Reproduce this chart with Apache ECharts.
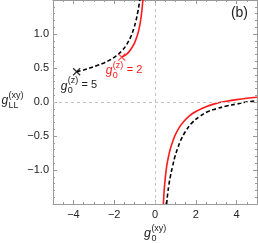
<!DOCTYPE html>
<html><head><meta charset="utf-8">
<script src="https://cdn.jsdelivr.net/npm/echarts@6/dist/echarts.min.js"></script>
<style>html,body{margin:0;padding:0;background:#fff}#c{width:258px;height:243px}</style>
</head><body><div id="c"></div>
<script>
// ---- data ----
const xTickValues = [-4, -2, 0, 2, 4];
const xMin = -5, xMax = 5, yMin = -1.5, yMax = 1.5;

const redLeft = [[-1.63,0.66],[-1.45,0.69],[-1.30,0.73],[-1.15,0.79],[-1.00,0.87],[-0.90,0.95],[-0.80,1.05],[-0.72,1.17],[-0.66,1.30],[-0.62,1.41],[-0.59,1.52]];
const redRight = [[0.41,-1.50],[0.45,-1.30],[0.50,-1.13],[0.57,-0.95],[0.65,-0.82],[0.75,-0.69],[0.87,-0.58],[1.00,-0.48],[1.20,-0.37],[1.40,-0.29],[1.70,-0.20],[2.00,-0.14],[2.50,-0.07],[3.00,-0.02],[3.50,0.01],[4.00,0.035],[4.50,0.055],[5.00,0.07]];
const blackLeft = [[-3.84,0.446],[-3.50,0.47],[-3.20,0.50],[-2.85,0.535],[-2.50,0.575],[-2.20,0.62],[-1.90,0.68],[-1.60,0.76],[-1.40,0.84],[-1.20,0.95],[-1.05,1.07],[-0.93,1.20],[-0.84,1.33],[-0.77,1.45],[-0.74,1.52]];
const blackRight = [[0.57,-1.50],[0.62,-1.35],[0.68,-1.22],[0.75,-1.10],[0.85,-0.96],[0.98,-0.80],[1.10,-0.69],[1.25,-0.57],[1.50,-0.43],[1.80,-0.31],[2.20,-0.21],[2.60,-0.14],[3.00,-0.10],[3.50,-0.06],[4.00,-0.03],[4.50,0.00],[5.00,0.02]];
const markerRed = [[-1.63,0.66]];
const markerBlack = [[-3.84,0.446]];
const labelRed = { sup: '(z)', sub: '0', rest: '= 2' };
const labelBlack = { sup: '(z)', sub: '0', rest: '= 5' };
const panelLabel = '(b)';

const RED = '#ff1a1a';
const FRAME = '#9a9a9a';
const FONT = 'Liberation Sans, Arial, sans-serif';
const minus = s => String(s).replace('-', '\u2212');

const chart = echarts.init(document.getElementById('c'), null, { renderer: 'canvas' });
const G = { left: 53, right: 1, top: 0, bottom: 39 };

function xAx(grid, pos, major) {
  return {
    type: 'value', gridIndex: grid, min: xMin, max: xMax, position: pos,
    interval: major ? undefined : 0.5,
    axisLine: { show: major, onZero: false, lineStyle: { color: FRAME, width: 1 } },
    axisTick: major ? { show: true, inside: true, length: 4, customValues: xTickValues, lineStyle: { color: FRAME } }
                    : { show: true, inside: true, length: 2, lineStyle: { color: FRAME } },
    axisLabel: (major && pos === 'bottom') ? { show: true, customValues: xTickValues, formatter: v => minus(v), color: '#222', fontSize: 11, fontFamily: FONT, margin: 5 } : { show: false },
    splitLine: { show: false }
  };
}
function yAx(grid, pos, show) {
  return {
    type: 'value', gridIndex: grid, min: yMin, max: yMax, interval: 0.5, position: pos,
    axisLine: { show: show, onZero: false, lineStyle: { color: FRAME, width: 1 } },
    axisTick: { show: show, inside: true, length: 4, lineStyle: { color: FRAME } },
    minorTick: { show: show, splitNumber: 5, length: 2, lineStyle: { color: FRAME } },
    axisLabel: (show && pos === 'left') ? { show: true, showMinLabel: false, showMaxLabel: false, formatter: v => minus(v.toFixed(1)), color: '#222', fontSize: 11, fontFamily: FONT, margin: 4 } : { show: false },
    splitLine: { show: false }
  };
}

const line = (data, color, dashed) => ({
  type: 'line', xAxisIndex: 0, yAxisIndex: 0, data: data, showSymbol: false, symbol: 'none',
  smooth: 0.4, clip: true, silent: true,
  lineStyle: { color: color, width: 1.6, type: dashed ? [4, 2.5] : 'solid' }
});
const xMark = (data, color) => ({
  type: 'scatter', xAxisIndex: 0, yAxisIndex: 0, data: data, silent: true,
  symbol: 'path://M0,0L10,10M10,0L0,10', symbolSize: 7,
  itemStyle: { color: color, borderColor: color, borderWidth: 1.3 }, z: 5
});

const option = {
  animation: false,
  grid: [Object.assign({}, G), Object.assign({}, G)],
  xAxis: [xAx(0, 'bottom', true), xAx(0, 'top', true), xAx(1, 'bottom', false), xAx(1, 'top', false)],
  yAxis: [yAx(0, 'left', true), yAx(0, 'right', true), yAx(1, 'left', false), yAx(1, 'right', false)],
  series: [
    Object.assign(line([], '#000', false), {
      markLine: { silent: true, symbol: ['none', 'none'], label: { show: false },
        lineStyle: { color: '#c4c4c4', type: [3, 3], width: 1 },
        data: [{ xAxis: 0 }, { yAxis: 0 }] }
    }),
    line(redLeft, RED, false),
    line(redRight, RED, false),
    line(blackLeft, '#000', true),
    line(blackRight, '#000', true),
    xMark(markerRed, RED),
    xMark(markerBlack, '#000')
  ]
};
chart.setOption(option);

function mathLabel(x, y, base, sup, sub, rest, color, fs) {
  const els = [];
  const gw = fs * 0.55;
  els.push({ type: 'text', x: x, y: y, style: { text: base, fill: color, font: 'italic ' + fs + 'px ' + FONT, verticalAlign: 'middle', align: 'left' } });
  const sfs = Math.round(fs * 0.72);
  els.push({ type: 'text', x: x + gw + 0.5, y: y - fs * 0.45, style: { text: sup, fill: color, font: sfs + 'px ' + FONT, verticalAlign: 'middle', align: 'left' } });
  els.push({ type: 'text', x: x + gw + 0.5, y: y + fs * 0.38, style: { text: sub, fill: color, font: sfs + 'px ' + FONT, verticalAlign: 'middle', align: 'left' } });
  if (rest) {
    const supw = sup.length * sfs * 0.42;
    els.push({ type: 'text', x: x + gw + supw + 3, y: y - 1, style: { text: rest, fill: color, font: '11px ' + FONT, verticalAlign: 'middle', align: 'left' } });
  }
  return els;
}

const pr = chart.convertToPixel({ gridIndex: 0 }, markerRed[0]);
const pb = chart.convertToPixel({ gridIndex: 0 }, markerBlack[0]);
const graphics = []
  .concat(mathLabel(pr[0] - 16, pr[1] + 13.5, 'g', labelRed.sup, labelRed.sub, labelRed.rest, RED, 12))
  .concat(mathLabel(pb[0] - 16, pb[1] + 14.5, 'g', labelBlack.sup, labelBlack.sub, labelBlack.rest, '#222', 12))
  .concat(mathLabel(1.5, 101, 'g', '(xy)', 'LL', '', '#222', 12))
  .concat(mathLabel(144, 234, 'g', '(xy)', '0', '', '#222', 12.5));
graphics.push({ type: 'text', right: 10, top: 6, style: { text: panelLabel, fill: '#222', font: '14px ' + FONT } });
chart.setOption({ graphic: graphics.map(e => Object.assign(e, { silent: true })) });
</script></body></html>
